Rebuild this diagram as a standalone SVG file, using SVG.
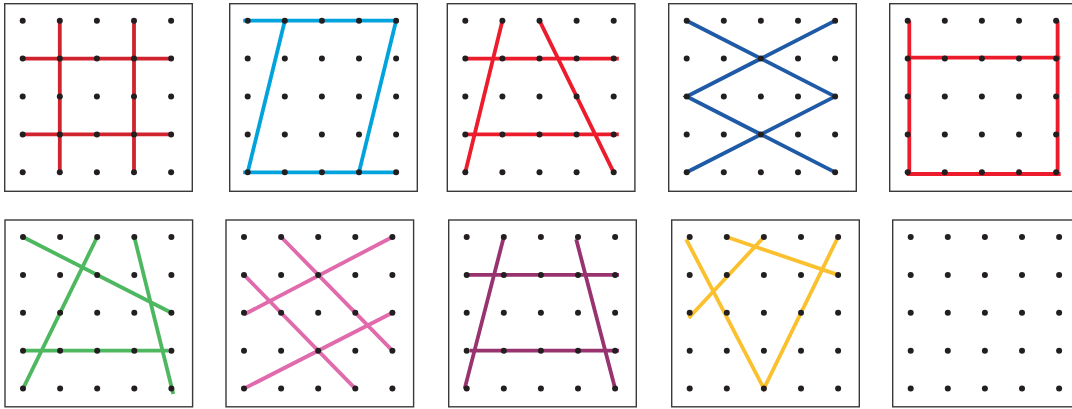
<svg xmlns="http://www.w3.org/2000/svg" xmlns:xlink="http://www.w3.org/1999/xlink" width="1072" height="409" viewBox="0 0 1072 409">
<style>
.box{fill:#fff;stroke:#3a3a3a;stroke-width:1.4}
.ln{fill:none;stroke-width:3.8;stroke-linecap:butt}
.c1{stroke:#d1232e}.c2{stroke:#00a3dc}.c3{stroke:#ec1c2c}.c4{stroke:#1f5aa6}
.c6{stroke:#4db860}.c7{stroke:#e06aab}.c8{stroke:#98336f}.c9{stroke:#fbc02d}
.dot{fill:#231f20}
</style>
<defs>
<g id="dots" class="dot">
<circle cx="18" cy="17" r="3"/><circle cx="55.1" cy="17" r="3"/><circle cx="92.2" cy="17" r="3"/><circle cx="129.3" cy="17" r="3"/><circle cx="166.4" cy="17" r="3"/>
<circle cx="18" cy="54.9" r="3"/><circle cx="55.1" cy="54.9" r="3"/><circle cx="92.2" cy="54.9" r="3"/><circle cx="129.3" cy="54.9" r="3"/><circle cx="166.4" cy="54.9" r="3"/>
<circle cx="18" cy="92.8" r="3"/><circle cx="55.1" cy="92.8" r="3"/><circle cx="92.2" cy="92.8" r="3"/><circle cx="129.3" cy="92.8" r="3"/><circle cx="166.4" cy="92.8" r="3"/>
<circle cx="18" cy="130.7" r="3"/><circle cx="55.1" cy="130.7" r="3"/><circle cx="92.2" cy="130.7" r="3"/><circle cx="129.3" cy="130.7" r="3"/><circle cx="166.4" cy="130.7" r="3"/>
<circle cx="18" cy="168.6" r="3"/><circle cx="55.1" cy="168.6" r="3"/><circle cx="92.2" cy="168.6" r="3"/><circle cx="129.3" cy="168.6" r="3"/><circle cx="166.4" cy="168.6" r="3"/>
</g>
</defs>

<g id="panel1" transform="translate(4.7,3.7)">
<rect class="box" x="0" y="0" width="187.6" height="187.6"/>
<path class="ln c1" d="M55.1,17V168.6M129.3,17V168.6M18,54.9H166.4M18,130.7H166.4"/>
<use xlink:href="#dots" href="#dots"/>
</g>

<g id="panel2" transform="translate(229.7,3.7)">
<rect class="box" x="0" y="0" width="187.6" height="187.6"/>
<path class="ln c2" d="M13.5,17H166.4M13.5,168.6H166.4M55.1,17L18,168.6M166.4,17L129.3,168.6"/>
<use xlink:href="#dots" href="#dots"/>
</g>

<g id="panel3" transform="translate(447.3,3.7)">
<rect class="box" x="0" y="0" width="187.6" height="187.6"/>
<path class="ln c3" d="M18,54.9H171.5M18,130.7H171.5M55.1,17L18,168.6M92.2,17L166.4,168.6"/>
<use xlink:href="#dots" href="#dots"/>
</g>

<g id="panel4" transform="translate(668.7,3.7)">
<rect class="box" x="0" y="0" width="187.6" height="187.6"/>
<path class="ln c4" d="M18,17L168.5,93.9M168.5,15.9L18,92.8L168.5,169.7M18,168.6L168.5,91.7"/>
<use xlink:href="#dots" href="#dots"/>
</g>

<g id="panel5" transform="translate(889.7,3.7)">
<rect class="box" x="0" y="0" width="187.6" height="187.6"/>
<path class="ln c3" d="M19.6,17V170.3M17,170.3H171M167.9,17V170.3M18,54H170.6"/>
<use xlink:href="#dots" href="#dots"/>
</g>

<g id="panel6" transform="translate(5,220)">
<rect class="box" x="0" y="0" width="187.6" height="186.8"/>
<path class="ln c6" d="M18,17L166.4,92.8M92.2,17L18,168.6M129.3,17L168.3,174M18,130.7H163.5"/>
<use xlink:href="#dots" href="#dots"/>
</g>

<g id="panel7" transform="translate(226,220)">
<rect class="box" x="0" y="0" width="187.6" height="186.8"/>
<path class="ln c7" d="M55.1,17L166.4,130.7M18,54.9L129.3,168.6M18,94.5L166.4,17M18,168.6L166.4,92.8"/>
<use xlink:href="#dots" href="#dots"/>
</g>

<g id="panel8" transform="translate(448.7,220)">
<rect class="box" x="0" y="0" width="187.6" height="186.8"/>
<path class="ln c8" d="M18,54.9H170.3M21.3,130.7H170.3M55.1,17L16,168.6M127.5,19.3L166.4,168.6"/>
<use xlink:href="#dots" href="#dots"/>
</g>

<g id="panel9" transform="translate(671.7,220)">
<rect class="box" x="0" y="0" width="187.6" height="186.8"/>
<path class="ln c9" d="M14.5,19.3L92.2,168.6L166.4,17M55.1,17L166.4,54.9M92.2,17L17,98"/>
<use xlink:href="#dots" href="#dots"/>
</g>

<g id="panel10" transform="translate(892.7,220)">
<rect class="box" x="0" y="0" width="187.6" height="186.8"/>
<use xlink:href="#dots" href="#dots"/>
</g>
</svg>
